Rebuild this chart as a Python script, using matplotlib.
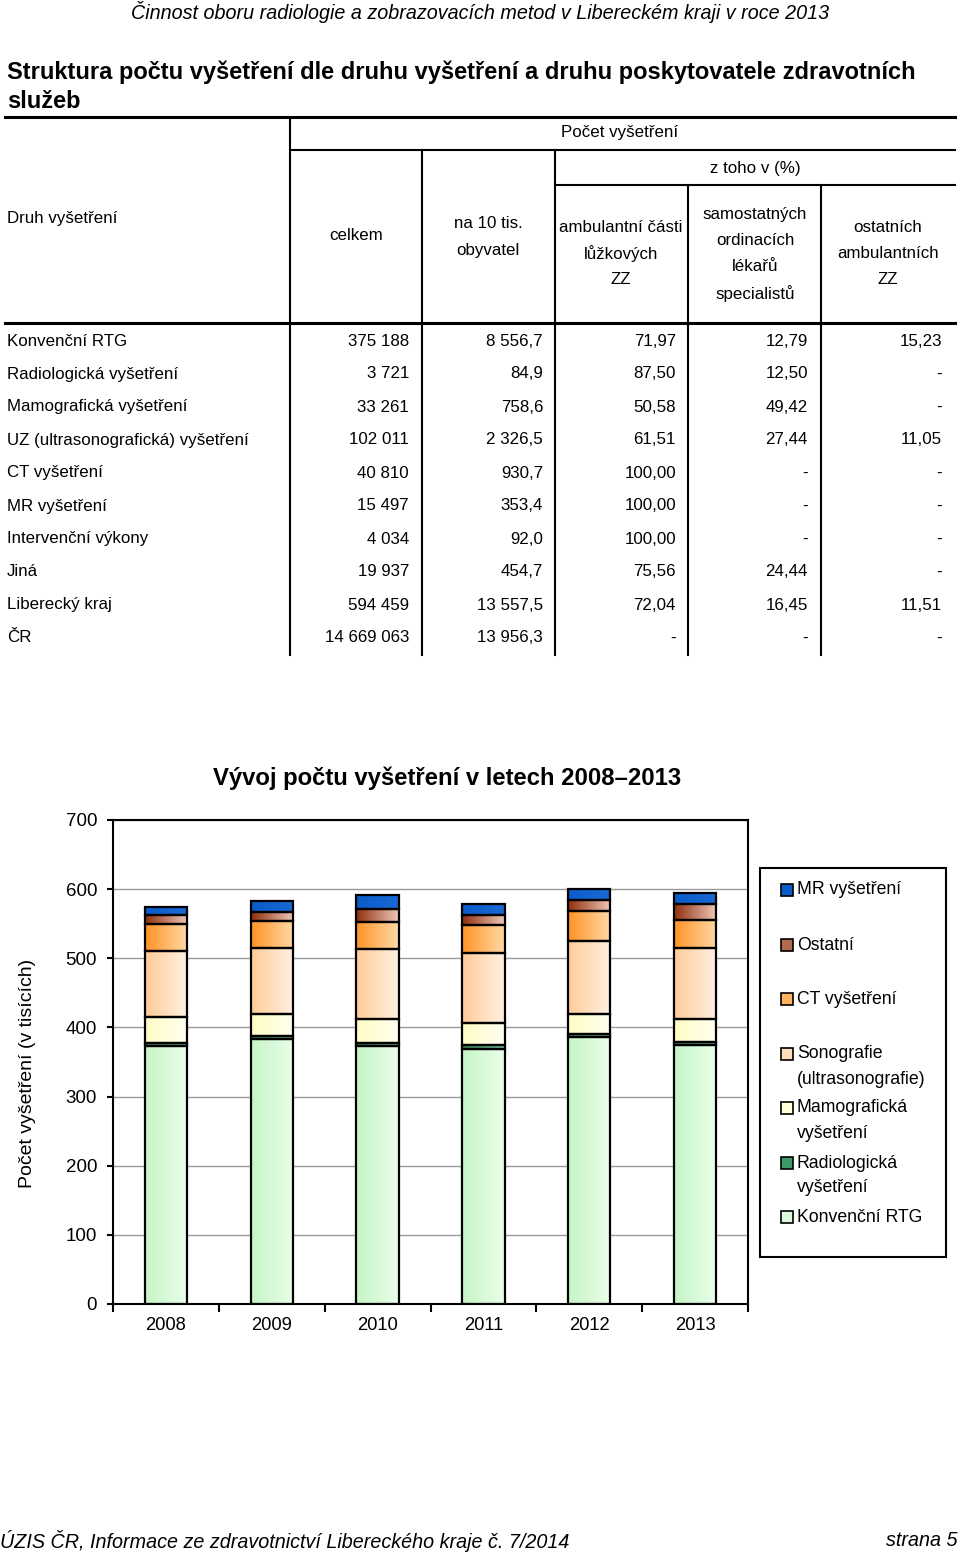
import numpy as np
import matplotlib
matplotlib.use("Agg")
import matplotlib.pyplot as plt
from matplotlib.colors import LinearSegmentedColormap

plt.rcParams['font.family'] = ['Liberation Sans', 'DejaVu Sans']

# ---- table data ----
row_names = ["Konvenční RTG", "Radiologická vyšetření", "Mamografická vyšetření",
             "UZ (ultrasonografická) vyšetření", "CT vyšetření", "MR vyšetření",
             "Intervenční výkony", "Jiná", "Liberecký kraj", "ČR"]
celkem = ["375 188", "3 721", "33 261", "102 011", "40 810", "15 497",
          "4 034", "19 937", "594 459", "14 669 063"]
na10tis = ["8 556,7", "84,9", "758,6", "2 326,5", "930,7", "353,4",
           "92,0", "454,7", "13 557,5", "13 956,3"]
amb_luz = ["71,97", "87,50", "50,58", "61,51", "100,00", "100,00",
           "100,00", "75,56", "72,04", "-"]
samost = ["12,79", "12,50", "49,42", "27,44", "-", "-", "-", "24,44", "16,45", "-"]
ostatni_amb = ["15,23", "-", "-", "11,05", "-", "-", "-", "-", "11,51", "-"]

# ---- chart data (thousands) ----
years = ["2008", "2009", "2010", "2011", "2012", "2013"]
konv_rtg = [373.5, 383.0, 372.5, 369.5, 385.5, 375.2]
radiol = [4.5, 4.0, 5.0, 5.5, 5.0, 3.7]
mamo = [37.0, 32.5, 35.0, 31.5, 29.0, 33.3]
sono = [96.0, 95.0, 101.0, 101.0, 106.0, 102.0]
ct = [39.0, 39.0, 38.5, 40.0, 43.0, 40.8]
ostatni = [12.0, 14.0, 20.0, 14.5, 15.5, 24.0]
mr = [11.5, 15.0, 20.0, 16.0, 16.5, 15.5]

series = [
    (["Konvenční RTG"], konv_rtg, "#c6f5c6", "#eafeea", "#dcf8dc"),
    (["Radiologická", "vyšetření"], radiol, "#2f8a5a", "#7cc49c", "#3c9a6a"),
    (["Mamografická", "vyšetření"], mamo, "#fffcc4", "#fffff0", "#ffffd8"),
    (["Sonografie", "(ultrasonografie)"], sono, "#ffcc99", "#fff0e2", "#ffdcbb"),
    (["CT vyšetření"], ct, "#ff9326", "#ffd9a6", "#ffb360"),
    (["Ostatní"], ostatni, "#92300f", "#eec8b8", "#b06a50"),
    (["MR vyšetření"], mr, "#0a5cc8", "#1a6ad6", "#0a5cc8"),
]

fig = plt.figure(figsize=(9.6, 15.54), dpi=100)
page = fig.add_axes([0, 0, 1, 1])
page.set_xlim(0, 960)
page.set_ylim(1554, 0)
page.axis('off')

page.text(480, 12, "Činnost oboru radiologie a zobrazovacích metod v Libereckém kraji v roce 2013",
          ha='center', va='center', fontsize=14.2, style='italic')
page.text(7, 72, "Struktura počtu vyšetření dle druhu vyšetření a druhu poskytovatele zdravotních",
          ha='left', va='center', fontsize=17, weight='bold')
page.text(7, 101, "služeb", ha='left', va='center', fontsize=17, weight='bold')

# table grid
lk = dict(color='black', lw=1.5)
page.plot([5, 955], [117, 117], color='black', lw=2.2)
page.plot([5, 955], [323, 323], color='black', lw=2.2)
page.plot([290, 955], [150, 150], **lk)
page.plot([555, 955], [185, 185], **lk)
page.plot([290, 290], [117, 655], **lk)
for xv in [422, 555]:
    page.plot([xv, xv], [150, 655], **lk)
for xv in [688, 821]:
    page.plot([xv, xv], [185, 655], **lk)

fs = 12.2
page.text(620, 133, "Počet vyšetření", ha='center', va='center', fontsize=fs)
page.text(755, 168, "z toho v (%)", ha='center', va='center', fontsize=fs)
page.text(7, 219, "Druh vyšetření", ha='left', va='center', fontsize=fs)
page.text(356, 236, "celkem", ha='center', va='center', fontsize=fs)
head_cells = [
    (488, 224, ["na 10 tis.", "obyvatel"]),
    (621, 227, ["ambulantní části", "lůžkových", "ZZ"]),
    (755, 214, ["samostatných", "ordinacích", "lékařů", "specialistů"]),
    (888, 227, ["ostatních", "ambulantních", "ZZ"]),
]
for xc, y0, lines in head_cells:
    for k, ln in enumerate(lines):
        page.text(xc, y0 + k * 26.4, ln, ha='center', va='center', fontsize=fs)

cols = [(409, celkem), (543, na10tis), (676, amb_luz), (808, samost), (942, ostatni_amb)]
for i, name in enumerate(row_names):
    yy = 341 + i * 33.0
    page.text(7, yy, name, ha='left', va='center', fontsize=fs)
    for xr, vals in cols:
        page.text(xr, yy, vals[i], ha='right', va='center', fontsize=fs)

# ---- chart ----
ax = fig.add_axes([113 / 960, 1 - 1304 / 1554, (748 - 113) / 960, (1304 - 820) / 1554])
x = np.arange(len(years))
bottom = np.zeros(len(years))
grad = np.linspace(0, 1, 64).reshape(1, -1)
for name, vals, c1, c2, csolid in series:
    bars = ax.bar(x, vals, 0.4, bottom=bottom, facecolor='none', edgecolor='black',
                  linewidth=1.6, zorder=3)
    cmap = LinearSegmentedColormap.from_list(name[0], [c1, c2])
    for b in bars:
        x0, y0 = b.get_x(), b.get_y()
        im = ax.imshow(grad, cmap=cmap, aspect='auto', zorder=2,
                       extent=(x0, x0 + b.get_width(), y0, y0 + b.get_height()))
        im.set_clip_path(b)
    bottom += np.array(vals)

ax.set_xlim(-0.5, 5.5)
ax.set_ylim(0, 700)
ax.set_yticks(range(0, 701, 100))
ax.yaxis.grid(True, color='#9a9a9a', lw=1)
ax.set_axisbelow(True)
for s in ax.spines.values():
    s.set_color('black')
    s.set_linewidth(1.5)
ax.set_xticks(np.arange(-0.5, 6, 1))
ax.set_xticklabels([])
ax.set_xticks(x, minor=True)
ax.set_xticklabels(years, minor=True)
ax.tick_params(axis='x', which='major', direction='out', length=6, width=1.5)
ax.tick_params(axis='x', which='minor', length=0, pad=9, labelsize=13.2)
ax.tick_params(axis='y', direction='out', length=4, width=1.5, pad=7.5, labelsize=13.5)

page.text(447, 778, "Vývoj počtu vyšetření v letech 2008–2013", ha='center', va='center',
          fontsize=17.2, weight='bold')
page.text(28, 1073, "Počet vyšetření (v tisících)", ha='center', va='center', rotation=90, fontsize=14)

# legend box
page.add_patch(plt.Rectangle((760, 868), 186, 389, facecolor='white', edgecolor='black', lw=1.5))
leg_y = [1217, 1163, 1108, 1054, 999, 945, 890]
for (name, vals, c1, c2, csolid), yy in zip(series, leg_y):
    page.add_patch(plt.Rectangle((781, yy - 6), 12, 12, facecolor=csolid, edgecolor='black', lw=1.2))
    for k, ln in enumerate(name):
        page.text(797, yy + k * 25, ln, ha='left', va='center', fontsize=12.7)

page.text(0, 1541, "ÚZIS ČR, Informace ze zdravotnictví Libereckého kraje č. 7/2014",
          ha='left', va='center', fontsize=14.2, style='italic')
page.text(958, 1541, "strana 5", ha='right', va='center', fontsize=14.2, style='italic')

fig.savefig("out.png", dpi=100)
